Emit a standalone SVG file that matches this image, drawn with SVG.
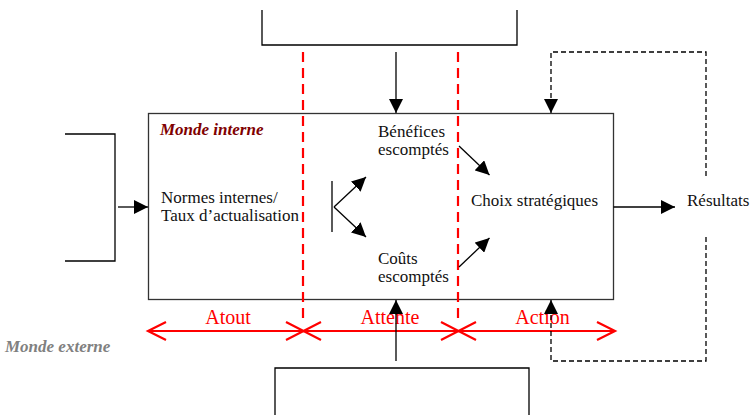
<svg xmlns="http://www.w3.org/2000/svg" width="752" height="415" viewBox="0 0 752 415">
<style>
.t{font-family:'Liberation Serif','DejaVu Serif',serif;font-size:17px;fill:#111}
.red{fill:#ff0000;font-size:20px}
.line{fill:none;stroke:#000;stroke-width:1.3}
.dash{fill:none;stroke:#000;stroke-width:1.3;stroke-dasharray:5,3}
.rdash{fill:none;stroke:#ff0000;stroke-width:2.2;stroke-dasharray:10,6}
.rl{fill:none;stroke:#ff0000;stroke-width:2.2}
</style>
<defs>
<marker id="ah" markerUnits="userSpaceOnUse" viewBox="0 0 14 14" refX="14" refY="7" markerWidth="14" markerHeight="14" orient="auto">
<path d="M0,0 L14,7 L0,14 Z" fill="#000"/>
</marker>
</defs>
<rect width="752" height="415" fill="#fff"/>
<g id="boxes">
<g id="top-box"><path class="line" d="M262,10 V45 H517 V10"/></g>
<g id="bottom-box"><path class="line" d="M275,415 V368 H529 V415"/></g>
<g id="left-bracket"><path class="line" d="M65,134 H115 V261 H65"/></g>
<g id="main"><rect x="148.5" y="113.5" width="465" height="186" fill="none" stroke="#333" stroke-width="1.3"/>
<text class="t" x="160" y="135" style="font-weight:bold;font-style:italic;fill:#800000">Monde interne</text></g>
</g>
<g id="red-dividers">
<path class="rdash" d="M303,52 V322"/>
<path class="rdash" d="M458,52 V322"/>
</g>
<g id="scale">
<path class="rl" d="M148,331 H615"/>
<path class="rl" d="M166,322 L148,331 L166,340"/>
<path class="rl" d="M286,322 L321,340 M286,340 L321,322"/>
<path class="rl" d="M441,322 L476,340 M441,340 L476,322"/>
<path class="rl" d="M597,322 L615,331 L597,340"/>
<text class="t red" x="228" y="324" text-anchor="middle">Atout</text>
<text class="t red" x="390" y="324" text-anchor="middle">Attente</text>
<text class="t red" x="542.5" y="324" text-anchor="middle">Action</text>
</g>
<g id="connectors">
<path class="line" d="M118,207 H148" marker-end="url(#ah)"/>
<path class="line" d="M396,52 V113" marker-end="url(#ah)"/>
<path class="line" d="M396,361 V300" marker-end="url(#ah)"/>
<path class="line" d="M613.5,207 H675" marker-end="url(#ah)"/>
<path class="dash" d="M706,176 V52 H551 V113" marker-end="url(#ah)"/>
<path class="dash" d="M706,237 V361 H551 V300" marker-end="url(#ah)"/>
<path class="line" d="M332,181 V232"/>
<path class="line" d="M334,207 L366,177" marker-end="url(#ah)"/>
<path class="line" d="M334,207 L366,237" marker-end="url(#ah)"/>
<path class="line" d="M459,146 L489.5,175" marker-end="url(#ah)"/>
<path class="line" d="M459,267 L489.5,238" marker-end="url(#ah)"/>
</g>
<g id="labels">
<g id="normes"><text class="t" x="161" y="203">Normes internes/</text><text class="t" x="161" y="221">Taux d’actualisation</text></g>
<g id="benefices"><text class="t" x="378" y="136.5">Bénéfices</text><text class="t" x="378" y="154.5">escomptés</text></g>
<g id="couts"><text class="t" x="378" y="264">Coûts</text><text class="t" x="378" y="282">escomptés</text></g>
<g id="choix"><text class="t" x="471" y="206">Choix stratégiques</text></g>
<g id="resultats"><text class="t" x="687" y="206">Résultats</text></g>
<g id="externe"><text class="t" x="5" y="352" style="font-weight:bold;font-style:italic;fill:#808080">Monde externe</text></g>
</g>
</svg>
